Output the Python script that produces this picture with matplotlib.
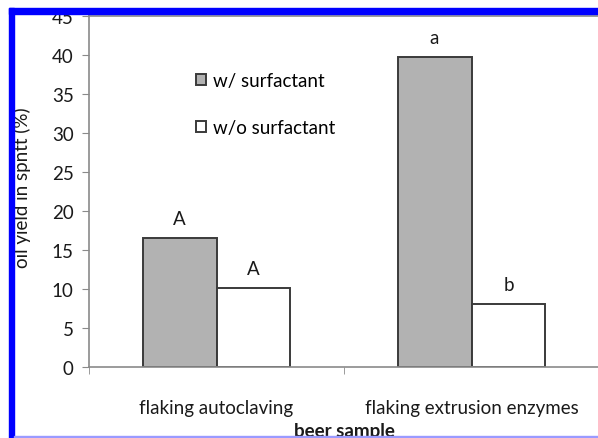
import numpy as np
import matplotlib.pyplot as plt
from matplotlib.patches import Rectangle

samples = ["flaking autoclaving", "flaking extrusion enzymes"]
with_surf = [16.5, 39.8]
without_surf = [10.1, 8.1]
letters_with = ["A", "a"]
letters_without = ["A", "b"]

plt.rcParams['font.family'] = ['Lato', 'DejaVu Sans']

W, H = 598, 439
fig = plt.figure(figsize=(W / 100, H / 100), dpi=100)
ax = fig.add_axes([89 / W, (H - 368) / H, 510 / W, 351 / H])

x = np.arange(len(samples))
bw = 0.29
b1 = ax.bar(x - bw / 2, with_surf, bw, color="#b2b2b2", edgecolor="#3a3a3a",
            linewidth=1.4, label="w/ surfactant", zorder=2)
b2 = ax.bar(x + bw / 2, without_surf, bw, color="white", edgecolor="#3a3a3a",
            linewidth=1.4, label="w/o surfactant", zorder=2)

for bars, labs in [(b1, letters_with), (b2, letters_without)]:
    for rect, lab in zip(bars, labs):
        ax.annotate(lab, (rect.get_x() + rect.get_width() / 2, rect.get_height()),
                    xytext=(0, 14), textcoords="offset points",
                    ha="center", va="center", fontsize=13.5, color="#1a1a1a")

ax.set_xlim(-0.5, 1.5)
ax.set_ylim(0, 45)
ax.set_yticks(np.arange(0, 46, 5))
ax.set_xticks(x)
ax.set_xticklabels(samples)
ax.set_xticks([-0.5, 0.5, 1.5], minor=True)

for s in ["left", "bottom", "top"]:
    ax.spines[s].set_color("#8a8a8a")
    ax.spines[s].set_linewidth(1.2)
ax.spines["right"].set_visible(False)

ax.tick_params(axis="y", direction="out", length=5, color="#8a8a8a",
               labelsize=13.5, pad=6, labelcolor="#1a1a1a")
ax.tick_params(axis="x", which="major", length=0, pad=23, labelsize=13.5,
               labelcolor="#1a1a1a")
ax.tick_params(axis="x", which="minor", direction="out", length=5, color="#8a8a8a")

ax.legend(loc="upper left", bbox_to_anchor=(196 / W, 1 - 73 / H),
          bbox_transform=fig.transFigure, frameon=False, fontsize=13.5,
          handlelength=0.55, handleheight=0.55, handletextpad=0.35,
          labelspacing=1.6, borderpad=0, borderaxespad=0)

fig.text(22 / W, 1 - 188 / H, "oil yield in spntt (%)", rotation=90,
         ha="center", va="center", fontsize=13.5, color="#1a1a1a")
fig.text(344 / W, 1 - 432 / H, "beer sample", ha="center", va="center",
         fontsize=13.5, fontweight="bold", color="#1a1a1a")

# blue frame of the screenshot
fig.patches.append(Rectangle((9 / W, 0), 5 / W, 1 - 9 / H, transform=fig.transFigure,
                             color="#0000ff", zorder=10))
fig.patches.append(Rectangle((9 / W, 1 - 15 / H), 1, 6 / H, transform=fig.transFigure,
                             color="#0000ff", zorder=10))
fig.patches.append(Rectangle((14 / W, 0), 1, 2.5 / H, transform=fig.transFigure,
                             color="#9a9aff", zorder=10))

fig.savefig("out.png", dpi=100)
